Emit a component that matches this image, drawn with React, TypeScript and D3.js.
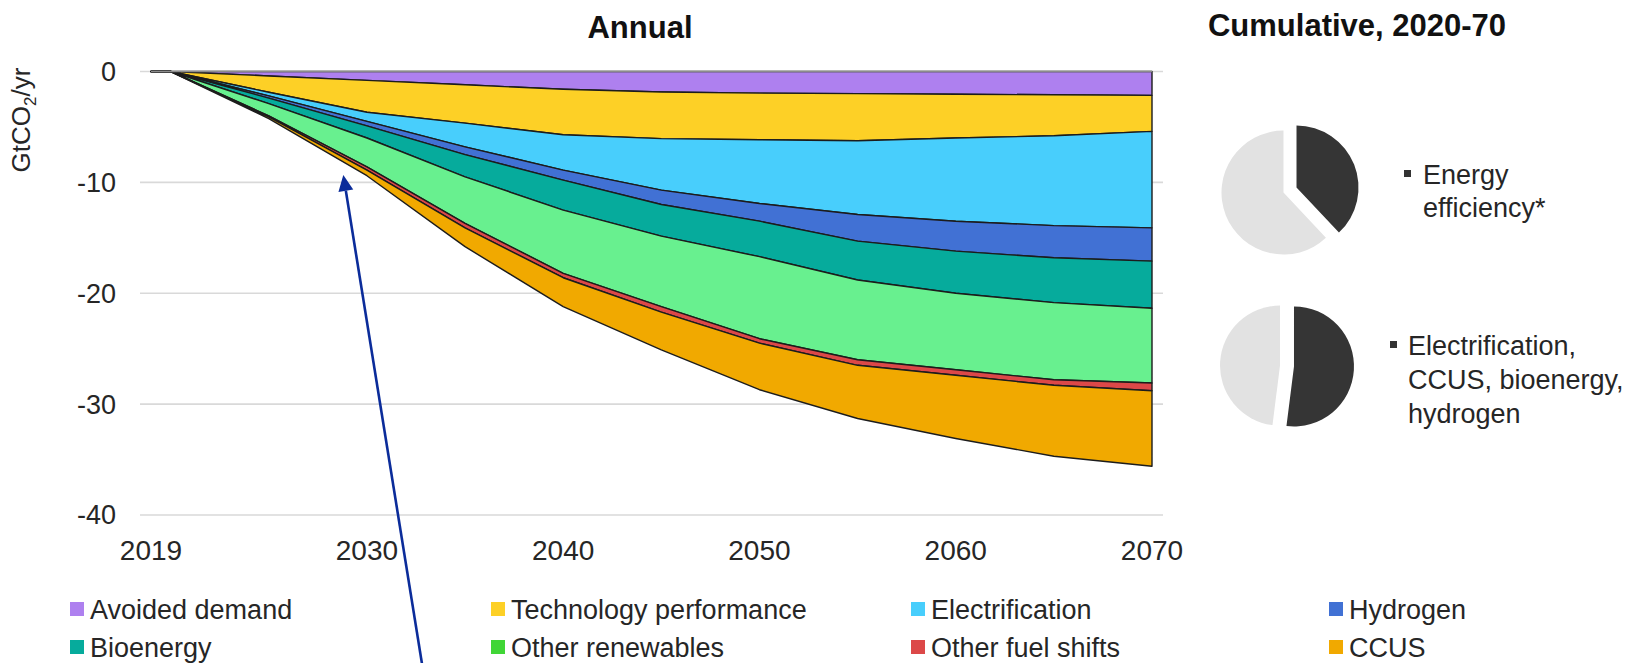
import React from "react";
import * as d3 from "d3";

const years = [2019, 2020, 2025, 2030, 2035, 2040, 2045, 2050, 2055, 2060, 2065, 2070];
const avoidedDemand = [0, 0, -0.4, -0.8, -1.2, -1.6, -1.85, -1.95, -2.0, -2.05, -2.1, -2.15];
const techPerformance = [0, 0, -1.47, -2.87, -3.46, -4.1, -4.2, -4.2, -4.25, -3.95, -3.7, -3.25];
const electrification = [0, 0, -0.33, -0.83, -2.14, -3.2, -4.65, -5.75, -6.65, -7.5, -8.1, -8.7];
const hydrogen = [0, 0, -0.2, -0.4, -0.7, -0.9, -1.3, -1.6, -2.4, -2.7, -2.9, -3.0];
const bioenergy = [0, 0, -0.5, -1.1, -2.0, -2.7, -2.85, -3.2, -3.5, -3.8, -4.05, -4.25];
const otherRenewables = [0, 0, -1.1, -2.6, -4.2, -5.7, -6.35, -7.4, -7.2, -6.9, -6.95, -6.75];
const otherFuelShifts = [0, 0, -0.1, -0.3, -0.4, -0.4, -0.5, -0.4, -0.5, -0.5, -0.5, -0.7];
const ccus = [0, 0, -0.15, -0.5, -1.7, -2.6, -3.4, -4.2, -4.8, -5.7, -6.4, -6.8];

const seriesNames = [
  "Avoided demand",
  "Technology performance",
  "Electrification",
  "Hydrogen",
  "Bioenergy",
  "Other renewables",
  "Other fuel shifts",
  "CCUS",
];
const seriesValues = [
  avoidedDemand,
  techPerformance,
  electrification,
  hydrogen,
  bioenergy,
  otherRenewables,
  otherFuelShifts,
  ccus,
];
const areaColors = ["#ae80ef", "#fdd026", "#48cefc", "#4171d4", "#06ab9c", "#68f08f", "#dc4848", "#f1a900"];
const legendColors = ["#ae80ef", "#fdd026", "#48cefc", "#4171d4", "#06ab9c", "#40d636", "#dc4848", "#f1a900"];

const xTicks = [2019, 2030, 2040, 2050, 2060, 2070];
const yTicks = [0, -10, -20, -30, -40];

const pieLabels1 = ["Energy", "efficiency*"];
const pieShares1 = [0.38, 0.62];
const pieLabels2 = ["Electrification,", "CCUS, bioenergy,", "hydrogen"];
const pieShares2 = [0.52, 0.48];
const pieColors = ["#353535", "#e2e2e2"];

const FONT = "'Liberation Sans', Arial, Helvetica, sans-serif";

function Pie({ cx, cy, r, shares, gap }: { cx: number; cy: number; r: number; shares: number[]; gap: number }) {
  const arcs = d3.pie<number>().sort(null).value((d) => d)(shares);
  const arcGen = d3.arc<d3.PieArcDatum<number>>().innerRadius(0).outerRadius(r);
  return (
    <g>
      {arcs.map((a, i) => {
        const mid = (a.startAngle + a.endAngle) / 2;
        const dx = Math.sin(mid) * gap;
        const dy = -Math.cos(mid) * gap;
        return (
          <path
            key={i}
            d={arcGen(a) || ""}
            transform={`translate(${cx + dx},${cy + dy})`}
            fill={pieColors[i]}
          />
        );
      })}
    </g>
  );
}

export default function App() {
  const W = 1651;
  const H = 663;
  const x = d3.scaleLinear().domain([2019, 2070]).range([151, 1152]);
  const y = d3.scaleLinear().domain([-40, 0]).range([515, 71.5]);

  const table = years.map((yr, i) => {
    const row: any = { year: yr };
    seriesNames.forEach((n, k) => (row[n] = seriesValues[k][i]));
    return row;
  });
  const stacked = d3
    .stack<any>()
    .keys(seriesNames)
    .order(d3.stackOrderNone)
    .offset(d3.stackOffsetDiverging)(table);

  const area = d3
    .area<any>()
    .x((d) => x(d.data.year))
    .y0((d) => y(d[0]))
    .y1((d) => y(d[1]));

  // arrow annotation
  const tipX = 343.3;
  const tipY = 175;
  const baseX = 423;
  const baseY = 670;
  const len = Math.hypot(tipX - baseX, tipY - baseY);
  const ux = (tipX - baseX) / len;
  const uy = (tipY - baseY) / len;
  const headL = 16;
  const headW = 7.5;
  const hbX = tipX - ux * headL;
  const hbY = tipY - uy * headL;
  const arrowHead = `${tipX},${tipY} ${hbX - uy * headW},${hbY + ux * headW} ${hbX + uy * headW},${hbY - ux * headW}`;

  const legendCols = [70, 491, 911, 1329];
  const legendRows = [609, 647];

  return (
    <svg
      width={W}
      height={H}
      style={{ position: "absolute", left: 0, top: 0, background: "#fff" }}
      fontFamily={FONT}
    >
      <rect x={0} y={0} width={W} height={H} fill="#fff" />
      {/* titles */}
      <text x={640} y={38} textAnchor="middle" fontSize={31} fontWeight="bold" fill="#111">
        Annual
      </text>
      <text x={1357} y={36} textAnchor="middle" fontSize={31} fontWeight="bold" fill="#111">
        Cumulative, 2020-70
      </text>

      {/* grid */}
      {yTicks.map((t) => (
        <line key={t} x1={140} x2={1163} y1={y(t)} y2={y(t)} stroke="#d9d9d9" strokeWidth={1.6} />
      ))}
      {yTicks.map((t) => (
        <text key={"l" + t} x={116} y={y(t)} dy="0.35em" textAnchor="end" fontSize={27} fill="#262626">
          {t}
        </text>
      ))}
      <text
        transform={`translate(30,120) rotate(-90)`}
        textAnchor="middle"
        fontSize={26}
        fill="#262626"
      >
        GtCO<tspan fontSize={17} dy={6}>2</tspan>
        <tspan dy={-6}>/yr</tspan>
      </text>

      {/* areas */}
      {stacked.map((s, i) => (
        <path key={s.key} d={area(s) || ""} fill={areaColors[i]} stroke="#1c1c1c" strokeWidth={1.4} strokeLinejoin="round" />
      ))}
      <line x1={x(2019)} x2={x(2070)} y1={y(0)} y2={y(0)} stroke="#8c8c8c" strokeWidth={1.5} />

      {/* x axis labels */}
      {xTicks.map((t) => (
        <text key={t} x={x(t)} y={560} textAnchor="middle" fontSize={28} fill="#262626">
          {t}
        </text>
      ))}

      {/* legend */}
      {seriesNames.map((n, i) => {
        const col = i % 4;
        const row = Math.floor(i / 4);
        const lx = legendCols[col];
        const ly = legendRows[row];
        return (
          <g key={n}>
            <rect x={lx} y={ly - 7} width={14} height={14} fill={legendColors[i]} />
            <text x={lx + 20} y={ly} dy="0.36em" fontSize={27} fill="#262626">
              {n}
            </text>
          </g>
        );
      })}

      {/* pies */}
      <Pie cx={1290} cy={190} r={62} shares={pieShares1} gap={7} />
      <Pie cx={1287} cy={366} r={60} shares={pieShares2} gap={7} />
      <rect x={1404} y={170} width={7} height={7} fill="#333" />
      {pieLabels1.map((t, i) => (
        <text key={t} x={1423} y={174 + i * 33} dy="0.36em" fontSize={27} fill="#262626">
          {t}
        </text>
      ))}
      <rect x={1390} y={341} width={7} height={7} fill="#333" />
      {pieLabels2.map((t, i) => (
        <text key={t} x={1408} y={345 + i * 34} dy="0.36em" fontSize={27} fill="#262626">
          {t}
        </text>
      ))}

      {/* arrow */}
      <line x1={baseX} y1={baseY} x2={hbX} y2={hbY} stroke="#0b2c9a" strokeWidth={2.6} />
      <polygon points={arrowHead} fill="#0b2c9a" />
    </svg>
  );
}
